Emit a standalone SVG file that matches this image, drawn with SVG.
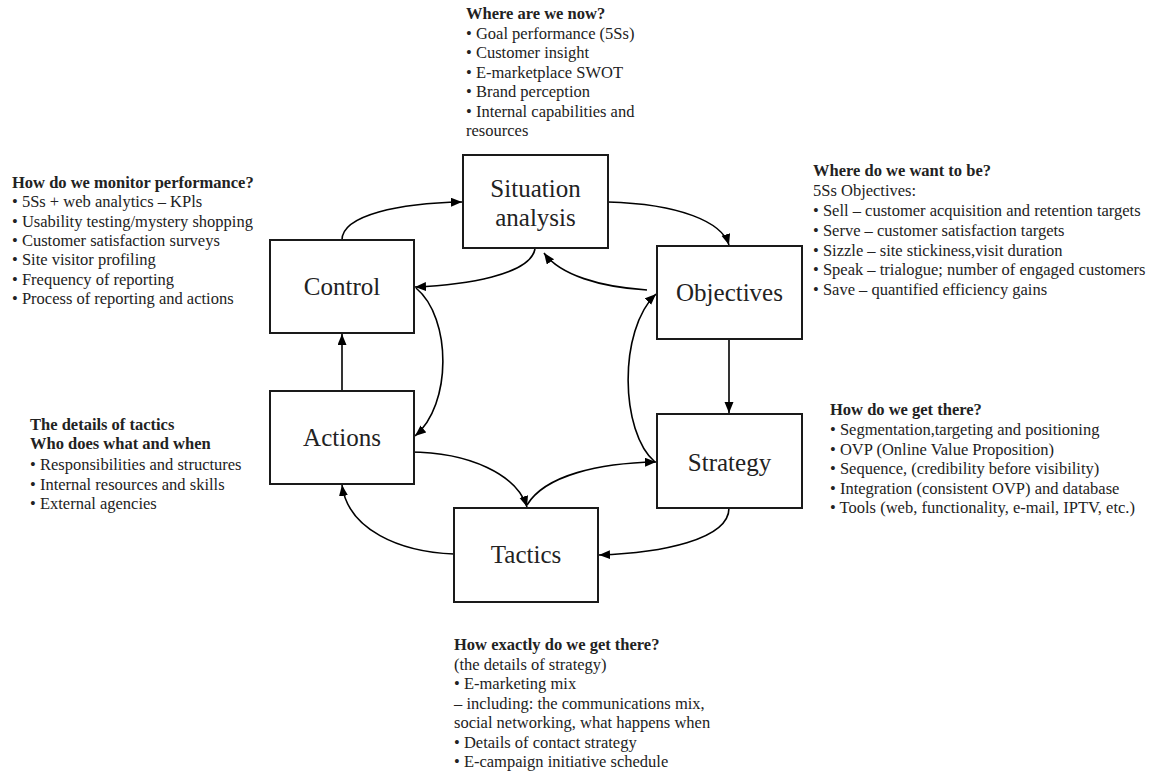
<svg xmlns="http://www.w3.org/2000/svg" width="1152" height="774" viewBox="0 0 1152 774">
<style>
.box{fill:#fff;stroke:#1a1a1a;stroke-width:2}
.lbl{font-family:"Liberation Serif","Times New Roman",serif;font-size:25px;fill:#222;text-anchor:middle}
.t{font-family:"Liberation Serif","Times New Roman",serif;font-size:16.5px;fill:#222}
.b{font-weight:bold}
.c{fill:none;stroke:#000;stroke-width:1.6}
</style>
<defs>
<marker id="ah" markerUnits="userSpaceOnUse" markerWidth="12" markerHeight="10" refX="11" refY="4.5" orient="auto">
<path d="M0,0 L11,4.5 L0,9 z" fill="#000"/>
</marker>
</defs>
<rect width="1152" height="774" fill="#fff"/>

<g id="connectors">
<path class="c" d="M342,240 C342,215 400,203 462,202" marker-end="url(#ah)"/>
<path class="c" d="M608,202 C680,204 722,222 729,245" marker-end="url(#ah)"/>
<path class="c" d="M535,249 C530,275 465,285 415,287" marker-end="url(#ah)"/>
<path class="c" d="M647,290 C600,287 560,275 544,253" marker-end="url(#ah)"/>
<path class="c" d="M416,288 C452,318 452,405 415,436" marker-end="url(#ah)"/>
<path class="c" d="M655,462 C620,432 618,330 656,294" marker-end="url(#ah)"/>
<path class="c" d="M409,452 C470,452 517,475 527,507" marker-end="url(#ah)"/>
<path class="c" d="M527,505 C545,475 600,463 656,462" marker-end="url(#ah)"/>
<path class="c" d="M729,508 C729,540 660,553 599,555" marker-end="url(#ah)"/>
<path class="c" d="M454,554 C400,552 348,530 342,485" marker-end="url(#ah)"/>
<path class="c" d="M342,391 L342,334" marker-end="url(#ah)"/>
<path class="c" d="M729,339 L729,413" marker-end="url(#ah)"/>
</g>

<g id="situation">
<rect class="box" x="463" y="155" width="145" height="93"/>
<text class="lbl" x="535.5" y="197">Situation</text>
<text class="lbl" x="535.5" y="226">analysis</text>
</g>
<g id="objectives">
<rect class="box" x="657" y="246" width="145" height="93"/>
<text class="lbl" x="729.5" y="301">Objectives</text>
</g>
<g id="strategy">
<rect class="box" x="657" y="414" width="145" height="94"/>
<text class="lbl" x="729.5" y="471">Strategy</text>
</g>
<g id="tactics">
<rect class="box" x="454" y="508" width="144" height="94"/>
<text class="lbl" x="526" y="563">Tactics</text>
</g>
<g id="actions">
<rect class="box" x="270" y="391" width="144" height="93"/>
<text class="lbl" x="342" y="446">Actions</text>
</g>
<g id="control">
<rect class="box" x="270" y="240" width="144" height="93"/>
<text class="lbl" x="342" y="295">Control</text>
</g>

<g id="note-situation">
<text x="466" y="19" class="t b">Where are we now?</text>
<text x="466" y="38.5" class="t">• Goal performance (5Ss)</text>
<text x="466" y="58" class="t">• Customer insight</text>
<text x="466" y="77.5" class="t">• E-marketplace SWOT</text>
<text x="466" y="97" class="t">• Brand perception</text>
<text x="466" y="116.5" class="t">• Internal capabilities and</text>
<text x="466" y="136" class="t">resources</text>
</g>
<g id="note-control">
<text x="12" y="188" class="t b">How do we monitor performance?</text>
<text x="12" y="207.3" class="t">• 5Ss + web analytics – KPls</text>
<text x="12" y="226.6" class="t">• Usability testing/mystery shopping</text>
<text x="12" y="246" class="t">• Customer satisfaction surveys</text>
<text x="12" y="265.3" class="t">• Site visitor profiling</text>
<text x="12" y="284.6" class="t">• Frequency of reporting</text>
<text x="12" y="304" class="t">• Process of reporting and actions</text>
</g>
<g id="note-objectives">
<text x="813" y="176" class="t b">Where do we want to be?</text>
<text x="813" y="195.5" class="t">5Ss Objectives:</text>
<text x="813" y="216" class="t">• Sell – customer acquisition and retention targets</text>
<text x="813" y="236" class="t">• Serve – customer satisfaction targets</text>
<text x="813" y="255.5" class="t">• Sizzle – site stickiness,visit duration</text>
<text x="813" y="275" class="t">• Speak – trialogue; number of engaged customers</text>
<text x="813" y="295" class="t">• Save – quantified efficiency gains</text>
</g>
<g id="note-actions">
<text x="30" y="430" class="t b">The details of tactics</text>
<text x="30" y="449" class="t b">Who does what and when</text>
<text x="30" y="470" class="t">• Responsibilities and structures</text>
<text x="30" y="489.5" class="t">• Internal resources and skills</text>
<text x="30" y="509" class="t">• External agencies</text>
</g>
<g id="note-strategy">
<text x="830" y="415" class="t b">How do we get there?</text>
<text x="830" y="435" class="t">• Segmentation,targeting and positioning</text>
<text x="830" y="454.5" class="t">• OVP (Online Value Proposition)</text>
<text x="830" y="474" class="t">• Sequence, (credibility before visibility)</text>
<text x="830" y="494" class="t">• Integration (consistent OVP) and database</text>
<text x="830" y="513" class="t">• Tools (web, functionality, e-mail, IPTV, etc.)</text>
</g>
<g id="note-tactics">
<text x="454" y="650" class="t b">How exactly do we get there?</text>
<text x="454" y="669.5" class="t">(the details of strategy)</text>
<text x="454" y="689" class="t">• E-marketing mix</text>
<text x="454" y="709" class="t">– including: the communications mix,</text>
<text x="454" y="728" class="t">social networking, what happens when</text>
<text x="454" y="747.5" class="t">• Details of contact strategy</text>
<text x="454" y="767" class="t">• E-campaign initiative schedule</text>
</g>
</svg>
